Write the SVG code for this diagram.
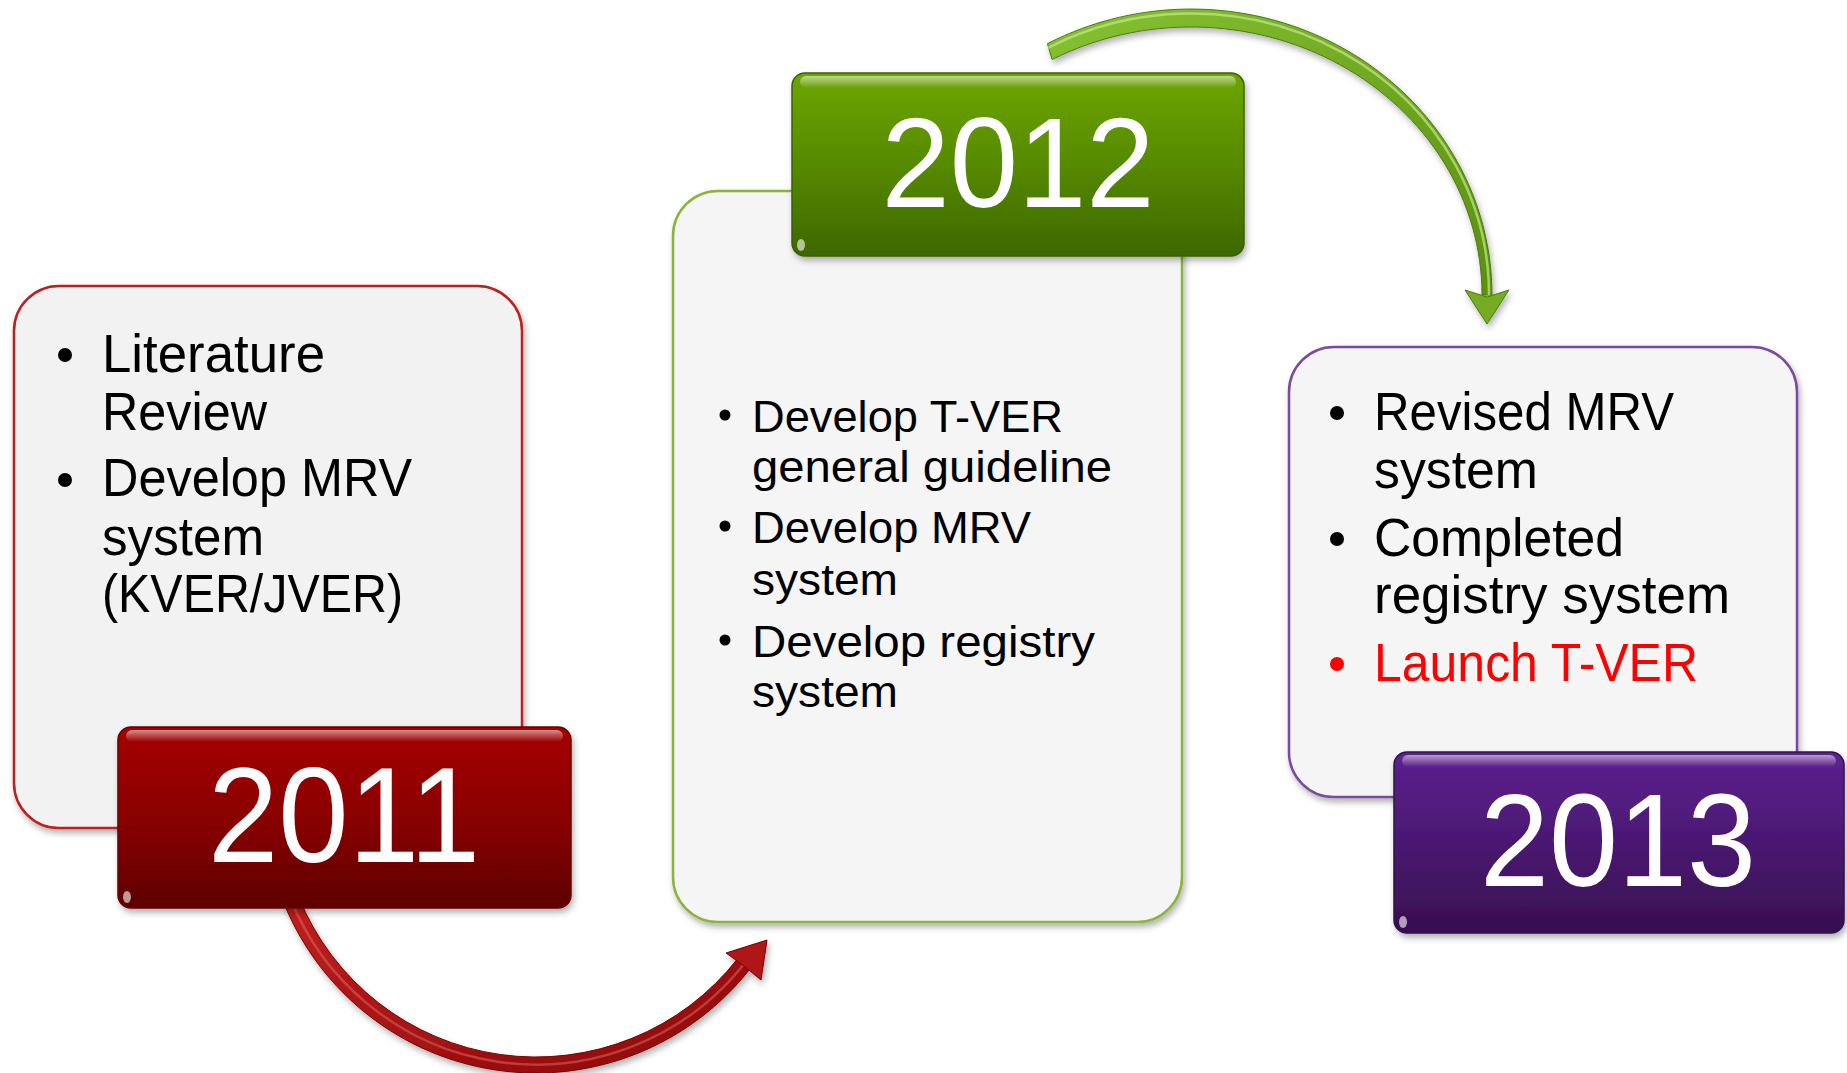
<svg xmlns="http://www.w3.org/2000/svg" width="1847" height="1073" viewBox="0 0 1847 1073">
  <defs>
    <style>
      .body { font-family: "Liberation Sans", Arial, sans-serif; fill: #000; }
      .big { font-size: 53px; }
      .mid { font-size: 45px; }
      .year { font-family: "Liberation Sans", Arial, sans-serif; fill: #fff; text-anchor: middle; }
      .box { stroke-width: 2.5; }
    </style>
    <filter id="sh" x="-10%" y="-10%" width="125%" height="125%">
      <feDropShadow dx="2" dy="4" stdDeviation="3" flood-color="#000" flood-opacity="0.3"/>
    </filter>
    <linearGradient id="gRed" x1="0" y1="0" x2="0" y2="1">
      <stop offset="0" stop-color="#a50000"/>
      <stop offset="0.5" stop-color="#8a0000"/>
      <stop offset="1" stop-color="#5e0000"/>
    </linearGradient>
    <linearGradient id="gGreen" x1="0" y1="0" x2="0" y2="1">
      <stop offset="0" stop-color="#6ca600"/>
      <stop offset="0.5" stop-color="#568a00"/>
      <stop offset="1" stop-color="#3d6700"/>
    </linearGradient>
    <linearGradient id="gPurple" x1="0" y1="0" x2="0" y2="1">
      <stop offset="0" stop-color="#5d2190"/>
      <stop offset="0.5" stop-color="#4a1872"/>
      <stop offset="1" stop-color="#380f50"/>
    </linearGradient>
    <linearGradient id="gloss" x1="0" y1="0" x2="0" y2="1">
      <stop offset="0" stop-color="#fff" stop-opacity="0.55"/>
      <stop offset="1" stop-color="#fff" stop-opacity="0"/>
    </linearGradient>
    <linearGradient id="aRed" x1="0" y1="0" x2="1" y2="1">
      <stop offset="0" stop-color="#c02020"/>
      <stop offset="1" stop-color="#8c0808"/>
    </linearGradient>
    <linearGradient id="aGreen" x1="0" y1="0" x2="1" y2="1">
      <stop offset="0" stop-color="#86c232"/>
      <stop offset="1" stop-color="#5a8f10"/>
    </linearGradient>
  </defs>

  <rect width="1847" height="1073" fill="#ffffff"/>

  <!-- connectors -->
  <g id="connectors">
    <g id="arrow-2011-2012" filter="url(#sh)">
      <path d="M283.8,902.9 A272,272 0 0 0 750.3,968.5 L737.7,958.6 A256,256 0 0 1 298.6,896.9 Z" fill="url(#aRed)" stroke="#7a0000" stroke-width="1"/>
      <path d="M291,900 A265,265 0 0 0 744,964" fill="none" stroke="#e06060" stroke-width="2.5" stroke-opacity="0.55"/>
      <polygon points="726,953 767,940 761,980 742.8,965" fill="#b01515" stroke="#7a0000" stroke-width="1"/>
    </g>
    <g id="arrow-2012-2013" filter="url(#sh)">
      <path d="M1047.4,43.7 A301,286 0 0 1 1492,295 L1482,295 A291,268 0 0 0 1052.1,59.5 Z" fill="url(#aGreen)" stroke="#4d7a0c" stroke-width="1"/>
      <path d="M1048,48 A298,281 0 0 1 1489,295" fill="none" stroke="#c4e88a" stroke-width="2.5" stroke-opacity="0.7"/>
      <polygon points="1465,290 1487,297 1509,290 1487,324" fill="#74ad20" stroke="#4d7a0c" stroke-width="1"/>
    </g>
  </g>

  <!-- 2011 -->
  <g id="node-2011">
    <rect class="box" x="14" y="286" width="508" height="542" rx="45" fill="#f2f2f2" stroke="#b82020" filter="url(#sh)"/>
    <circle cx="65" cy="355" r="7"/>
    <text class="body big" x="102" y="372" textLength="223" lengthAdjust="spacingAndGlyphs">Literature</text>
    <text class="body big" x="102" y="430" textLength="165" lengthAdjust="spacingAndGlyphs">Review</text>
    <circle cx="65" cy="480" r="7"/>
    <text class="body big" x="102" y="496" textLength="310" lengthAdjust="spacingAndGlyphs">Develop MRV</text>
    <text class="body big" x="102" y="555" textLength="162" lengthAdjust="spacingAndGlyphs">system</text>
    <text class="body big" x="102" y="612" textLength="301" lengthAdjust="spacingAndGlyphs">(KVER/JVER)</text>
  </g>
  <g id="label-2011" filter="url(#sh)">
    <rect x="118" y="727" width="453" height="181" rx="13" fill="url(#gRed)" stroke="#6a0000" stroke-width="1.5"/>
    <rect x="126" y="730" width="437" height="12" rx="6" fill="url(#gloss)"/>
    <ellipse cx="127" cy="897" rx="4" ry="6" fill="#fff" fill-opacity="0.6"/>
    <text class="year" x="344" y="862" font-size="136" textLength="272" lengthAdjust="spacingAndGlyphs">2011</text>
  </g>

  <!-- 2012 -->
  <g id="node-2012">
    <rect class="box" x="673" y="191" width="509" height="731" rx="45" fill="#f5f5f5" stroke="#8ab53c" filter="url(#sh)"/>
    <circle cx="725" cy="415" r="5.5"/>
    <text class="body mid" x="752" y="432" textLength="311" lengthAdjust="spacingAndGlyphs">Develop T-VER</text>
    <text class="body mid" x="752" y="482" textLength="360" lengthAdjust="spacingAndGlyphs">general guideline</text>
    <circle cx="725" cy="526" r="5.5"/>
    <text class="body mid" x="752" y="543" textLength="279" lengthAdjust="spacingAndGlyphs">Develop MRV</text>
    <text class="body mid" x="752" y="595" textLength="146" lengthAdjust="spacingAndGlyphs">system</text>
    <circle cx="725" cy="640" r="5.5"/>
    <text class="body mid" x="752" y="657" textLength="343" lengthAdjust="spacingAndGlyphs">Develop registry</text>
    <text class="body mid" x="752" y="707" textLength="146" lengthAdjust="spacingAndGlyphs">system</text>
  </g>
  <g id="label-2012" filter="url(#sh)">
    <rect x="792" y="73" width="452" height="183" rx="13" fill="url(#gGreen)" stroke="#3a6000" stroke-width="1.5"/>
    <rect x="800" y="76" width="436" height="12" rx="6" fill="url(#gloss)"/>
    <ellipse cx="801" cy="245" rx="4" ry="6" fill="#fff" fill-opacity="0.6"/>
    <text class="year" x="1018" y="207" font-size="128" textLength="273" lengthAdjust="spacingAndGlyphs">2012</text>
  </g>

  <!-- 2013 -->
  <g id="node-2013">
    <rect class="box" x="1289" y="347" width="508" height="450" rx="45" fill="#f5f5f5" stroke="#7a4aa0" filter="url(#sh)"/>
    <circle cx="1337" cy="413" r="7"/>
    <text class="body big" x="1374" y="430" textLength="300" lengthAdjust="spacingAndGlyphs">Revised MRV</text>
    <text class="body big" x="1374" y="488" textLength="164" lengthAdjust="spacingAndGlyphs">system</text>
    <circle cx="1337" cy="539" r="7"/>
    <text class="body big" x="1374" y="556" textLength="250" lengthAdjust="spacingAndGlyphs">Completed</text>
    <text class="body big" x="1374" y="613" textLength="356" lengthAdjust="spacingAndGlyphs">registry system</text>
    <circle cx="1337" cy="664" r="7" fill="#ff0000"/>
    <text class="body big" x="1374" y="681" textLength="324" lengthAdjust="spacingAndGlyphs" style="fill:#ff0000">Launch T-VER</text>
  </g>
  <g id="label-2013" filter="url(#sh)">
    <rect x="1394" y="752" width="450" height="181" rx="13" fill="url(#gPurple)" stroke="#33104a" stroke-width="1.5"/>
    <rect x="1402" y="755" width="434" height="12" rx="6" fill="url(#gloss)"/>
    <ellipse cx="1403" cy="922" rx="4" ry="6" fill="#fff" fill-opacity="0.6"/>
    <text class="year" x="1618" y="886" font-size="131" textLength="276" lengthAdjust="spacingAndGlyphs">2013</text>
  </g>
</svg>
